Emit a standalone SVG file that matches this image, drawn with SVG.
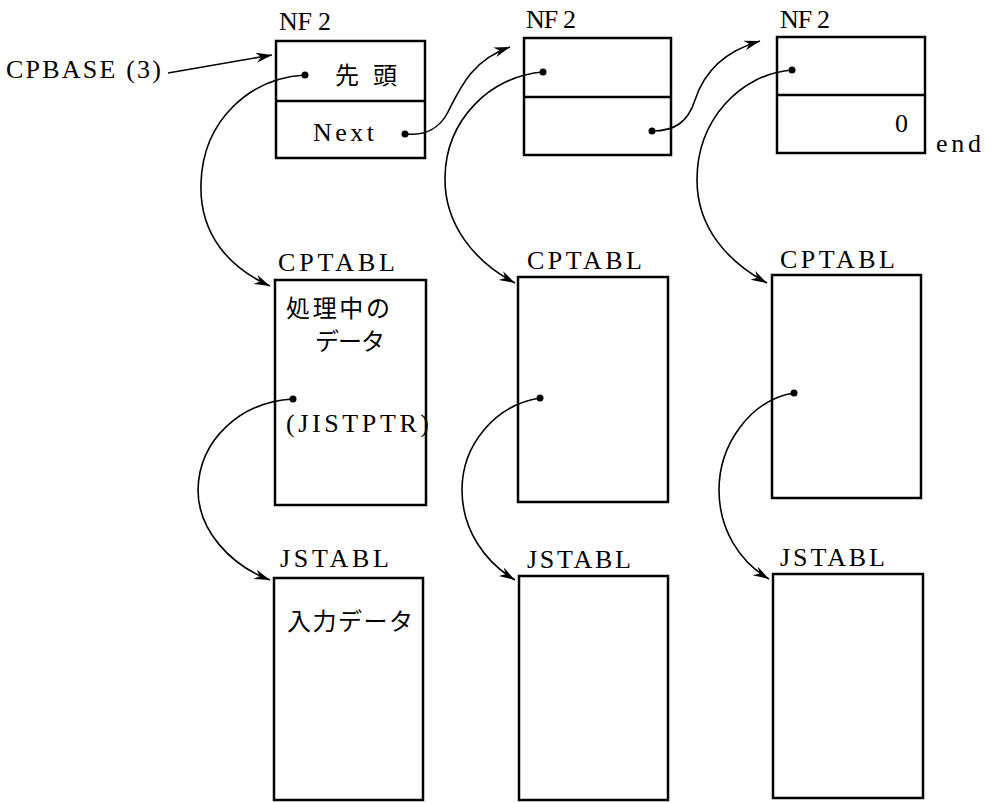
<svg xmlns="http://www.w3.org/2000/svg" width="987" height="803" viewBox="0 0 987 803">
<style>
.box{fill:none;stroke:#000;stroke-width:2.5}
.div{stroke:#000;stroke-width:2.5}
.lbl{font-family:'Liberation Serif','Times New Roman',serif;font-size:26px;fill:#000;letter-spacing:3px}
.jp{font-family:'Noto Sans CJK JP',sans-serif;font-size:24px;fill:#000}
.con{fill:none;stroke:#000;stroke-width:1.6}
.dot{fill:#000}
</style>
<defs>
<marker id="arr" markerUnits="userSpaceOnUse" markerWidth="20" markerHeight="12" refX="16" refY="5" orient="auto">
<path d="M0,0 L16,5 L0,10 L5,5 z" fill="#000"/>
</marker>
</defs>
<rect width="987" height="803" fill="#fff"/>

<g id="cpbase">
<text class="lbl" x="6" y="78" textLength="158" lengthAdjust="spacing">CPBASE (3)</text>
</g>

<g id="nf2-1">
<text class="lbl" x="279" y="30" textLength="55" lengthAdjust="spacing">NF 2</text>
<rect class="box" x="276" y="41" width="149" height="117"/>
<line class="div" x1="276" y1="101" x2="425" y2="101"/>
<text class="jp" x="335" y="84" font-size="22" textLength="62" lengthAdjust="spacing">先 頭</text>
<text class="lbl" x="313" y="141" textLength="64" lengthAdjust="spacing">Next</text>
<circle class="dot" cx="305" cy="75" r="3.5"/>
<circle class="dot" cx="405" cy="134" r="3.5"/>
</g>

<g id="nf2-2">
<text class="lbl" x="526" y="28" textLength="53" lengthAdjust="spacing">NF 2</text>
<rect class="box" x="524" y="38" width="147" height="117"/>
<line class="div" x1="524" y1="97" x2="671" y2="97"/>
<circle class="dot" cx="543" cy="72" r="3.5"/>
<circle class="dot" cx="652" cy="131" r="3.5"/>
</g>

<g id="nf2-3">
<text class="lbl" x="780" y="28" textLength="53" lengthAdjust="spacing">NF 2</text>
<rect class="box" x="777" y="37" width="148" height="116"/>
<line class="div" x1="777" y1="95" x2="925" y2="95"/>
<circle class="dot" cx="792" cy="70" r="3.5"/>
<text class="lbl" x="895" y="132" style="letter-spacing:0">0</text>
<text class="lbl" x="936" y="152" textLength="48" lengthAdjust="spacing">end</text>
</g>

<g id="cptabl-1">
<text class="lbl" x="278" y="271" textLength="120" lengthAdjust="spacing">CPTABL</text>
<rect class="box" x="275" y="280" width="151" height="225"/>
<text class="jp" x="286" y="317" font-size="24" textLength="104" lengthAdjust="spacing">処理中の</text>
<text class="jp" x="315" y="350" font-size="22" textLength="70" lengthAdjust="spacing">データ</text>
<text class="lbl" x="286" y="432" textLength="146" lengthAdjust="spacing">(JISTPTR)</text>
<circle class="dot" cx="293" cy="399" r="3.5"/>
</g>

<g id="cptabl-2">
<text class="lbl" x="527" y="269" textLength="118" lengthAdjust="spacing">CPTABL</text>
<rect class="box" x="518" y="277" width="150" height="225"/>
<circle class="dot" cx="540" cy="398" r="3.5"/>
</g>

<g id="cptabl-3">
<text class="lbl" x="780" y="268" textLength="118" lengthAdjust="spacing">CPTABL</text>
<rect class="box" x="772" y="275" width="149" height="223"/>
<circle class="dot" cx="794" cy="393" r="3.5"/>
</g>

<g id="jstabl-1">
<text class="lbl" x="280" y="567" textLength="112" lengthAdjust="spacing">JSTABL</text>
<rect class="box" x="274" y="578" width="149" height="222"/>
<text class="jp" x="287" y="630" font-size="25" textLength="126" lengthAdjust="spacing">入力データ</text>
</g>

<g id="jstabl-2">
<text class="lbl" x="527" y="568" textLength="107" lengthAdjust="spacing">JSTABL</text>
<rect class="box" x="519" y="576" width="149" height="224"/>
</g>

<g id="jstabl-3">
<text class="lbl" x="780" y="566" textLength="108" lengthAdjust="spacing">JSTABL</text>
<rect class="box" x="773" y="574" width="150" height="224"/>
</g>

<g id="connectors">
<path class="con" marker-end="url(#arr)" d="M168,73 L272,55"/>
<path class="con" marker-end="url(#arr)" d="M305,75 C250,78 203,120 201,183 C199,235 230,268 270,286"/>
<path class="con" marker-end="url(#arr)" d="M543,72 C490,76 446,120 445,177 C444,225 475,262 515,283"/>
<path class="con" marker-end="url(#arr)" d="M792,70 C740,74 697,120 697,180 C697,228 728,262 767,283"/>
<path class="con" marker-end="url(#arr)" d="M405,134 C425,136 440,128 448,112 C460,88 472,60 510,47"/>
<path class="con" marker-end="url(#arr)" d="M652,131 C675,131 688,122 695,100 C703,75 722,52 760,41"/>
<path class="con" marker-end="url(#arr)" d="M293,399 C240,402 199,440 198,490 C198,530 230,565 270,580"/>
<path class="con" marker-end="url(#arr)" d="M540,398 C495,405 462,445 462,490 C462,530 485,562 515,580"/>
<path class="con" marker-end="url(#arr)" d="M794,393 C750,400 719,445 719,490 C719,530 740,562 769,579"/>
</g>
</svg>
